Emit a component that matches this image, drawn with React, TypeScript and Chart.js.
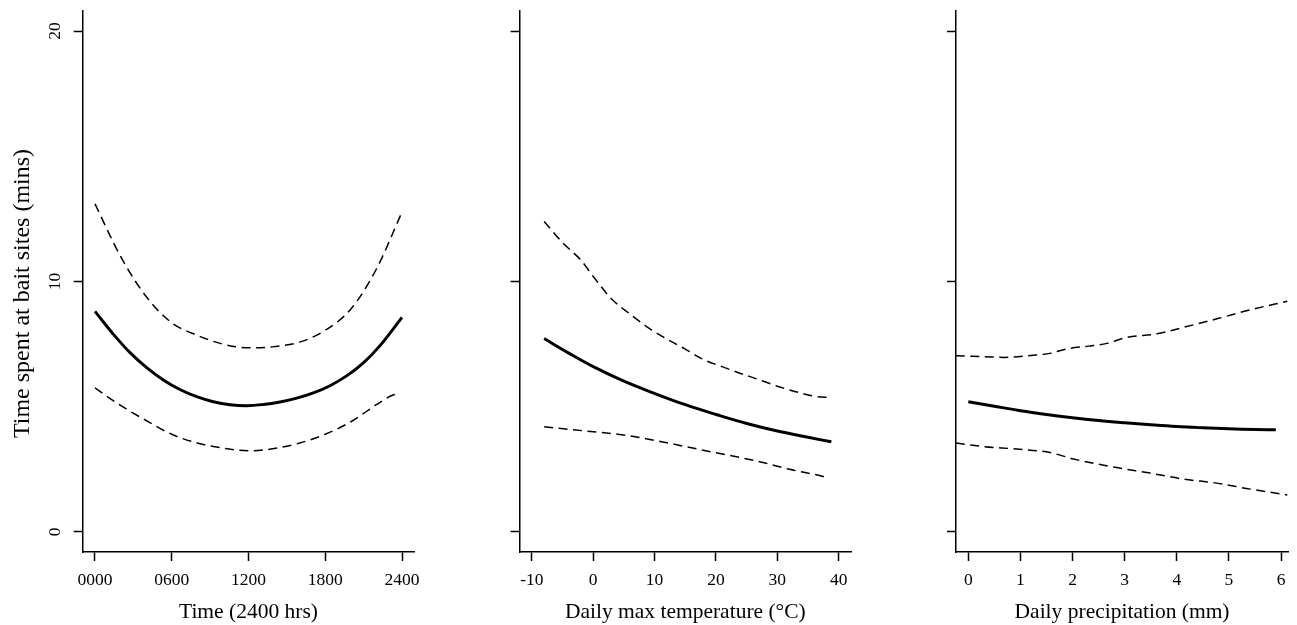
import React, { useEffect, useRef } from "react";
import { Chart, registerables } from "chart.js";

Chart.register(...registerables);

const FONT = "'Liberation Serif', 'Times New Roman', Times, serif";

// ---- tick values / labels ----
const yTicks = [0, 10, 20];
const timeTicks = [0, 600, 1200, 1800, 2400];
const timeTickLabels = ["0000", "0600", "1200", "1800", "2400"];
const tempTicks = [-10, 0, 10, 20, 30, 40];
const precipTicks = [0, 1, 2, 3, 4, 5, 6];

const yTitle = "Time spent at bait sites (mins)";
const xTitles = ["Time (2400 hrs)", "Daily max temperature (°C)", "Daily precipitation (mm)"];

// ---- panel 1: time of day ----
const timeFitX = [0, 143, 274, 404, 534, 664, 795, 925, 1055, 1186, 1316, 1446, 1577, 1707, 1837, 1967, 2098, 2228, 2400];
const timeFit = [8.81, 7.9, 7.16, 6.56, 6.07, 5.69, 5.4, 5.2, 5.08, 5.04, 5.09, 5.19, 5.34, 5.55, 5.84, 6.23, 6.75, 7.44, 8.57];
const timeUpperX = [0, 200, 400, 600, 800, 1000, 1200, 1400, 1600, 1800, 2000, 2200, 2398];
const timeUpper = [13.1, 11.0, 9.4, 8.35, 7.85, 7.5, 7.35, 7.4, 7.58, 8.05, 8.9, 10.5, 12.75];
const timeLowerX = [0, 200, 400, 600, 800, 1000, 1200, 1400, 1600, 1800, 2000, 2200, 2330, 2375];
const timeLower = [5.75, 5.05, 4.45, 3.9, 3.55, 3.35, 3.24, 3.33, 3.55, 3.9, 4.4, 5.08, 5.47, 5.5];

// ---- panel 2: daily max temperature ----
const tempFitX = [-8, -4, 0, 5, 10, 15, 20, 25, 30, 35, 38.8];
const tempFit = [7.72, 7.14, 6.6, 6.02, 5.53, 5.08, 4.69, 4.33, 4.03, 3.78, 3.6];
const tempUpperX = [-8, -5, -2, 0, 3, 6, 9, 12, 15, 18, 21, 24, 27, 30, 33, 36, 38.8];
const tempUpper = [12.4, 11.55, 10.85, 10.2, 9.3, 8.7, 8.15, 7.7, 7.3, 6.88, 6.6, 6.33, 6.08, 5.82, 5.6, 5.42, 5.37];
const tempLowerX = [-8, -4, 0, 4, 8, 12, 16, 20, 24, 28, 32, 36, 38.2];
const tempLower = [4.2, 4.1, 4.0, 3.9, 3.75, 3.56, 3.36, 3.16, 2.97, 2.75, 2.5, 2.3, 2.17];

// ---- panel 3: daily precipitation ----
const precipFitX = [0, 0.5, 1, 1.5, 2, 2.5, 3, 3.5, 4, 4.5, 5, 5.5, 5.9];
const precipFit = [5.2, 5.02, 4.84, 4.69, 4.56, 4.45, 4.36, 4.28, 4.21, 4.16, 4.12, 4.09, 4.08];
const precipUpperX = [-0.24, 0.3, 0.7, 1.2, 1.57, 1.89, 2.3, 2.66, 3.04, 3.62, 4.13, 4.77, 5.41, 6.12];
const precipUpper = [7.04, 7.0, 6.97, 7.05, 7.13, 7.31, 7.42, 7.53, 7.77, 7.91, 8.17, 8.51, 8.87, 9.21];
const precipLowerX = [-0.24, 0.29, 0.93, 1.57, 2.02, 2.85, 3.49, 4.13, 4.77, 5.41, 6.12];
const precipLower = [3.55, 3.41, 3.31, 3.17, 2.91, 2.57, 2.35, 2.11, 1.95, 1.71, 1.48];

type PanelCfg = {
  left: number;
  width: number;
  yWidth: number;
  padRight: number;
  xMin: number;
  xMax: number;
  xTicks: number[];
  xLabels?: string[];
  xTitle: string;
  showY: boolean;
  fit: [number[], number[]];
  upper: [number[], number[]];
  lower: [number[], number[]];
};

const panels: PanelCfg[] = [
  {
    left: 0, width: 436, yWidth: 82.7, padRight: 21.7,
    xMin: -96, xMax: 2496, xTicks: timeTicks, xLabels: timeTickLabels,
    xTitle: xTitles[0], showY: true,
    fit: [timeFitX, timeFit], upper: [timeUpperX, timeUpper], lower: [timeLowerX, timeLower],
  },
  {
    left: 436, width: 436, yWidth: 83.6, padRight: 21,
    xMin: -12, xMax: 42, xTicks: tempTicks,
    xTitle: xTitles[1], showY: false,
    fit: [tempFitX, tempFit], upper: [tempUpperX, tempUpper], lower: [tempLowerX, tempLower],
  },
  {
    left: 872, width: 425, yWidth: 84, padRight: 8.9,
    xMin: -0.236, xMax: 6.136, xTicks: precipTicks,
    xTitle: xTitles[2], showY: false,
    fit: [precipFitX, precipFit], upper: [precipUpperX, precipUpper], lower: [precipLowerX, precipLower],
  },
];

const toPts = (xs: number[], ys: number[]) => xs.map((x, i) => ({ x, y: ys[i] }));

function Panel({ cfg }: { cfg: PanelCfg }) {
  const ref = useRef<HTMLCanvasElement | null>(null);
  useEffect(() => {
    if (!ref.current) return;
    const axisCommon = {
      grid: { display: true, drawOnChartArea: false, drawTicks: true, tickLength: 9, tickColor: "#000", tickWidth: 1.5 },
      border: { display: true, color: "#000", width: 1.5 },
    };
    const dashed = {
      borderColor: "#000", borderWidth: 1.5, borderDash: [9, 5.5], pointRadius: 0,
      tension: 0.3, cubicInterpolationMode: "monotone", fill: false,
    };
    const chart = new Chart(ref.current, {
      type: "line",
      data: {
        datasets: [
          {
            data: toPts(cfg.fit[0], cfg.fit[1]),
            borderColor: "#000", borderWidth: 2.9, pointRadius: 0,
            tension: 0.4, fill: false,
          },
          { data: toPts(cfg.upper[0], cfg.upper[1]), ...dashed },
          { data: toPts(cfg.lower[0], cfg.lower[1]), ...dashed },
        ],
      },
      options: {
        animation: false,
        responsive: false,
        devicePixelRatio: 1,
        layout: { padding: { left: 0, top: 11, right: cfg.padRight, bottom: 0 } },
        plugins: { legend: { display: false }, tooltip: { enabled: false } },
        scales: {
          x: {
            type: "linear",
            min: cfg.xMin,
            max: cfg.xMax,
            afterBuildTicks: (s: any) => { s.ticks = cfg.xTicks.map((v) => ({ value: v })); },
            afterFit: (s: any) => { s.height = 73; s.paddingLeft = 0; s.paddingRight = 0; },
            ...axisCommon,
            ticks: {
              maxRotation: 0, minRotation: 0, padding: 9, color: "#000",
              font: { family: FONT, size: 17.5, lineHeight: 1.2 },
              callback: (v: any, i: number) => (cfg.xLabels ? cfg.xLabels[i] : String(v)),
            },
            title: {
              display: true, text: cfg.xTitle, color: "#000",
              font: { family: FONT, size: 21.5, lineHeight: 1.2 },
              padding: { top: 0, bottom: 0 },
            },
          },
          y: {
            type: "linear",
            min: -0.8,
            max: 20.8,
            afterBuildTicks: (s: any) => { s.ticks = yTicks.map((v) => ({ value: v })); },
            afterFit: (s: any) => { s.width = cfg.yWidth; s.paddingTop = 0; s.paddingBottom = 0; },
            ...axisCommon,
            ticks: {
              display: cfg.showY, minRotation: 90, maxRotation: 90, crossAlign: "center",
              padding: 9.5, color: "#000",
              font: { family: FONT, size: 17.5, lineHeight: 1.2 },
            },
            title: {
              display: cfg.showY, text: yTitle + "\u00A0\u00A0\u00A0\u00A0", color: "#000",
              font: { family: FONT, size: 24, lineHeight: 1.2 },
              padding: { top: 8, bottom: 0 },
            },
          },
        },
      } as any,
    });
    return () => chart.destroy();
  }, [cfg]);
  return (
    <canvas
      ref={ref}
      width={cfg.width}
      height={625}
      style={{ position: "absolute", left: cfg.left, top: 0, width: cfg.width, height: 625 }}
    />
  );
}

export default function App() {
  return (
    <div style={{ position: "absolute", left: 0, top: 0, width: 1297, height: 625, background: "#fff", overflow: "hidden" }}>
      {panels.map((p, i) => (
        <Panel key={i} cfg={p} />
      ))}
    </div>
  );
}
